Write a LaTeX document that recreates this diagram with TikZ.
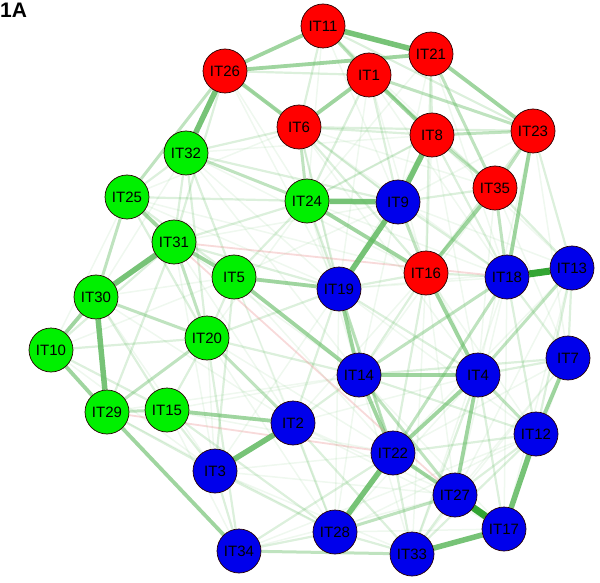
\documentclass[tikz,border=0pt]{standalone}
\usepackage{fontspec}
\setmainfont{Liberation Sans}
\usetikzlibrary{backgrounds}
\definecolor{eg}{RGB}{95,185,95}
\definecolor{egd}{RGB}{40,160,40}
\definecolor{ep}{RGB}{235,150,150}
\definecolor{nr}{RGB}{255,0,0}
\definecolor{ng}{RGB}{0,240,0}
\definecolor{nb}{RGB}{0,0,235}
\tikzset{
  itm/.style={circle,draw=black!85!red,line width=0.7pt,minimum size=44pt,inner sep=0pt,font=\fontsize{15}{15}\selectfont},
  rn/.style={itm,fill=nr},
  gn/.style={itm,fill=ng},
  bn/.style={itm,fill=nb},
  e0/.style={eg,line width=1.5pt,opacity=0.10},
  e1/.style={eg,line width=2.2pt,opacity=0.22},
  e2/.style={eg,line width=3pt,opacity=0.40},
  e3/.style={eg,line width=3.8pt,opacity=0.60},
  e4/.style={eg,line width=5.5pt,opacity=0.85},
  e5/.style={egd,line width=7pt,opacity=0.95},
  en/.style={ep,line width=1.8pt,opacity=0.35},
}
\begin{document}
\begin{tikzpicture}[x=1pt,y=-1pt]
\useasboundingbox (0,0) rectangle (600,583);
\node[anchor=north west,inner sep=0pt,font=\fontsize{21}{21}\selectfont\bfseries] (lab) at (0,3) {1A};
% red
\node[rn] (IT11) at (323,26) {IT11};
\node[rn] (IT21) at (431,54) {IT21};
\node[rn] (IT26) at (225,71) {IT26};
\node[rn] (IT1) at (369,75) {IT1};
\node[rn] (IT6) at (299,127) {IT6};
\node[rn] (IT8) at (432,135) {IT8};
\node[rn] (IT23) at (533,131) {IT23};
\node[rn] (IT35) at (495,188) {IT35};
\node[rn] (IT16) at (426,273) {IT16};
% green
\node[gn] (IT32) at (186,153) {IT32};
\node[gn] (IT25) at (127,197) {IT25};
\node[gn] (IT24) at (307,201) {IT24};
\node[gn] (IT31) at (174,242) {IT31};
\node[gn] (IT5) at (234,277) {IT5};
\node[gn] (IT30) at (96,297) {IT30};
\node[gn] (IT20) at (207,338) {IT20};
\node[gn] (IT10) at (51,350) {IT10};
\node[gn] (IT29) at (107,412) {IT29};
\node[gn] (IT15) at (167,410) {IT15};
% blue
\node[bn] (IT9) at (398,202) {IT9};
\node[bn] (IT19) at (339,289) {IT19};
\node[bn] (IT18) at (507,277) {IT18};
\node[bn] (IT13) at (572,268) {IT13};
\node[bn] (IT7) at (568,358) {IT7};
\node[bn] (IT14) at (359,375) {IT14};
\node[bn] (IT4) at (478,375) {IT4};
\node[bn] (IT2) at (293,423) {IT2};
\node[bn] (IT12) at (536,434) {IT12};
\node[bn] (IT22) at (393,453) {IT22};
\node[bn] (IT3) at (215,471) {IT3};
\node[bn] (IT27) at (455,495) {IT27};
\node[bn] (IT17) at (504,529) {IT17};
\node[bn] (IT28) at (335,532) {IT28};
\node[bn] (IT33) at (412,554) {IT33};
\node[bn] (IT34) at (239,551) {IT34};
\begin{pgfonlayer}{background}
% faint background edges
\foreach \a/\b in {IT26/IT9,IT26/IT19,IT26/IT24,IT11/IT24,IT11/IT9,IT11/IT35,IT21/IT9,IT21/IT24,IT21/IT18,IT1/IT16,IT1/IT19,IT1/IT18,IT6/IT35,IT6/IT14,IT6/IT4,IT8/IT19,IT8/IT16,IT8/IT4,IT8/IT24,IT23/IT9,IT23/IT4,IT23/IT7,IT35/IT4,IT35/IT7,IT35/IT14,IT32/IT19,IT32/IT16,IT32/IT14,IT32/IT30,IT25/IT19,IT25/IT16,IT25/IT10,IT24/IT20,IT24/IT14,IT24/IT22,IT9/IT14,IT9/IT4,IT9/IT5,IT31/IT14,IT31/IT2,IT31/IT3,IT5/IT2,IT5/IT22,IT5/IT28,IT19/IT22,IT19/IT28,IT19/IT3,IT19/IT12,IT16/IT2,IT16/IT27,IT16/IT33,IT16/IT12,IT18/IT27,IT18/IT17,IT18/IT33,IT13/IT22,IT13/IT27,IT13/IT17,IT7/IT27,IT7/IT33,IT7/IT22,IT7/IT17,IT14/IT28,IT14/IT33,IT14/IT17,IT4/IT28,IT4/IT2,IT20/IT28,IT20/IT22,IT20/IT3,IT30/IT5,IT30/IT3,IT30/IT2,IT10/IT3,IT10/IT5,IT29/IT28,IT29/IT14,IT15/IT22,IT15/IT14,IT15/IT34,IT2/IT27,IT2/IT17,IT3/IT22,IT3/IT33,IT3/IT27,IT34/IT27,IT34/IT12,IT28/IT17,IT22/IT17,IT12/IT28,IT32/IT8,IT25/IT6,IT31/IT9,IT24/IT18,IT19/IT18,IT19/IT13,IT9/IT13,IT6/IT18,IT1/IT13}
  {\draw[e0] (\a) -- (\b);}
% light edges
\foreach \a/\b in {IT32/IT31,IT32/IT25,IT32/IT5,IT26/IT31,IT26/IT1,IT6/IT9,IT6/IT8,IT6/IT16,IT6/IT19,IT1/IT24,IT1/IT9,IT11/IT8,IT11/IT6,IT21/IT8,IT21/IT16,IT8/IT18,IT35/IT9,IT35/IT13,IT23/IT13,IT23/IT16,IT9/IT18,IT24/IT19,IT24/IT31,IT24/IT5,IT32/IT9,IT19/IT20,IT19/IT2,IT19/IT4,IT5/IT20,IT5/IT3,IT20/IT15,IT20/IT14,IT20/IT34,IT30/IT15,IT29/IT3,IT15/IT3,IT15/IT28,IT2/IT14,IT2/IT28,IT2/IT33,IT3/IT34,IT3/IT28,IT34/IT28,IT34/IT22,IT28/IT33,IT33/IT22,IT33/IT27,IT33/IT12,IT33/IT4,IT27/IT12,IT17/IT4,IT14/IT7,IT14/IT12,IT22/IT12,IT18/IT12,IT13/IT12,IT13/IT7,IT18/IT7,IT18/IT16,IT4/IT7,IT16/IT14,IT16/IT22,IT10/IT31,IT10/IT15,IT10/IT20,IT25/IT24,IT25/IT5,IT31/IT19,IT31/IT29,IT25/IT20,IT32/IT20,IT6/IT23,IT1/IT35,IT11/IT23,IT32/IT6,IT24/IT8,IT19/IT16}
  {\draw[e1] (\a) -- (\b);}
% medium-light edges
\foreach \a/\b in {IT26/IT25,IT21/IT35,IT1/IT23,IT8/IT23,IT23/IT35,IT35/IT18,IT9/IT16,IT29/IT20,IT6/IT24,IT32/IT24,IT14/IT27,IT28/IT27,IT18/IT14,IT13/IT4,IT18/IT22,IT11/IT1,IT8/IT35,IT25/IT30,IT30/IT20,IT31/IT20,IT34/IT33,IT19/IT22,IT4/IT12,IT20/IT2,IT29/IT15}
  {\draw[e2] (\a) -- (\b);}
% medium edges
\foreach \a/\b in {IT1/IT6,IT26/IT6,IT26/IT11,IT26/IT21,IT21/IT23,IT1/IT8,IT23/IT18,IT35/IT16,IT16/IT4,IT24/IT16,IT19/IT14,IT5/IT14,IT5/IT19,IT31/IT5,IT25/IT31,IT30/IT10,IT10/IT29,IT29/IT34,IT15/IT2,IT14/IT4,IT14/IT22,IT22/IT27,IT4/IT22,IT4/IT27,IT7/IT12}
  {\draw[e3] (\a) -- (\b);}
% negative edges
\foreach \a/\b in {IT31/IT18,IT29/IT22,IT31/IT27}
  {\draw[en] (\a) -- (\b);}
% strong edges
\foreach \a/\b in {IT31/IT30,IT30/IT29,IT3/IT2,IT8/IT9,IT9/IT19,IT24/IT9,IT11/IT21,IT26/IT32,IT22/IT28,IT33/IT17,IT12/IT17}
  {\draw[e4] (\a) -- (\b);}
\draw[e5] (IT18) -- (IT13);
\draw[e5] (IT27) -- (IT17);
\end{pgfonlayer}
\end{tikzpicture}
\end{document}
